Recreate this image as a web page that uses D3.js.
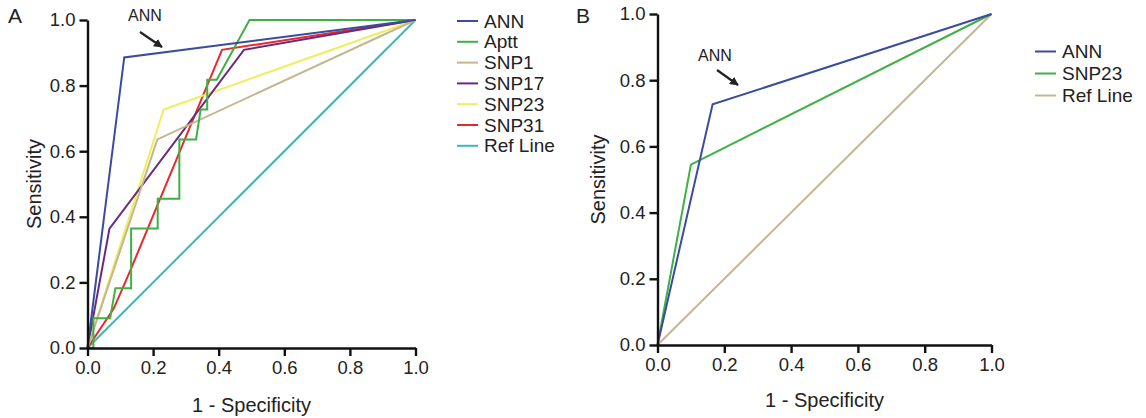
<!DOCTYPE html>
<html>
<head>
<meta charset="utf-8">
<script src="https://cdn.jsdelivr.net/npm/d3@7"></script>
<style>
body { margin: 0; background: #fff; }
text { font-family: "Liberation Sans", Arial, sans-serif; fill: #222; }
</style>
</head>
<body>
<script>
// panel A curves [1-specificity, sensitivity]
var annA = [[0, 0], [0.112, 0.886], [1, 1]];
var aptt = [[0, 0], [0.018, 0], [0.018, 0.091], [0.069, 0.091], [0.085, 0.182], [0.133, 0.182], [0.133, 0.364],
    [0.214, 0.364], [0.214, 0.455], [0.28, 0.455], [0.28, 0.636], [0.331, 0.636], [0.345, 0.727],
    [0.365, 0.727], [0.365, 0.818], [0.394, 0.818], [0.494, 1], [1, 1]];
var snp1 = [[0, 0], [0.213, 0.636], [1, 1]];
var snp17 = [[0, 0], [0.067, 0.364], [0.477, 0.909], [1, 1]];
var snp23A = [[0, 0], [0.232, 0.727], [1, 1]];
var snp31 = [[0, 0], [0.08, 0.12], [0.13, 0.235], [0.41, 0.909], [1, 1]];
var refLine = [[0, 0], [1, 1]];

// panel B curves
var annB = [[0, 0], [0.165, 0.727], [1, 1]];
var snp23B = [[0, 0], [0.1, 0.545], [1, 1]];

var ticks = [0, 0.2, 0.4, 0.6, 0.8, 1.0];

var seriesA = [
    {name: "ANN", pts: annA, color: "#3b4ba0"},
    {name: "Aptt", pts: aptt, color: "#3fb044"},
    {name: "SNP1", pts: snp1, color: "#c4b68e"},
    {name: "SNP17", pts: snp17, color: "#6b2b7c"},
    {name: "SNP23", pts: snp23A, color: "#eeee5e"},
    {name: "SNP31", pts: snp31, color: "#e8282c"},
    {name: "Ref Line", pts: refLine, color: "#3db6b6"}
];
var seriesB = [
    {name: "ANN", pts: annB, color: "#3b4ba0"},
    {name: "SNP23", pts: snp23B, color: "#3fb044"},
    {name: "Ref Line", pts: refLine, color: "#c4b68e"}
];

var svg = d3.select("body").append("svg")
    .attr("width", 1146).attr("height", 418);

svg.append("defs").append("marker")
    .attr("id", "arr")
    .attr("viewBox", "0 0 10 10")
    .attr("refX", 9).attr("refY", 5)
    .attr("markerWidth", 4).attr("markerHeight", 4)
    .attr("orient", "auto")
    .append("path").attr("d", "M0,0L10,5L0,10z").attr("fill", "#222");

function panel(opt) {
    var x = d3.scaleLinear().domain([0, 1]).range([opt.x0, opt.x1]);
    var y = d3.scaleLinear().domain([0, 1]).range([opt.y0, opt.y1]);
    var g = svg.append("g");

    var line = d3.line().x(d => x(d[0])).y(d => y(d[1]));
    g.selectAll("path.curve")
        .data(opt.series.slice().reverse())
        .join("path")
        .attr("class", "curve")
        .attr("fill", "none")
        .attr("stroke", d => d.color)
        .attr("stroke-width", 2)
        .attr("stroke-linejoin", "miter")
        .attr("d", d => line(d.pts));

    var ax = g.append("g")
        .attr("transform", "translate(0," + opt.y0 + ")")
        .call(d3.axisBottom(x).tickValues(ticks).tickFormat(d3.format(".1f")).tickSize(8).tickSizeOuter(0).tickPadding(5));
    var ay = g.append("g")
        .attr("transform", "translate(" + opt.x0 + ",0)")
        .call(d3.axisLeft(y).tickValues(ticks).tickFormat(d3.format(".1f")).tickSize(8).tickSizeOuter(0).tickPadding(4));
    [ax, ay].forEach(a => {
        a.selectAll("path, line").attr("stroke", "#111").attr("stroke-width", 2.4);
        a.selectAll("text").style("font-size", "18.5px").attr("fill", "#222");
    });

    g.append("text")
        .attr("x", (opt.x0 + opt.x1) / 2).attr("y", opt.xtY)
        .attr("text-anchor", "middle").style("font-size", "20px")
        .text("1 - Specificity");
    g.append("text")
        .attr("transform", "translate(" + opt.ytX + "," + (opt.y0 + opt.y1) / 2 + ") rotate(-90)")
        .attr("text-anchor", "middle").attr("dy", "0.35em").style("font-size", "20px")
        .text("Sensitivity");

    g.append("text")
        .attr("x", opt.letter[0]).attr("y", opt.letter[1])
        .style("font-size", "21px").text(opt.label);

    // ANN callout
    g.append("text")
        .attr("x", opt.ann[0]).attr("y", opt.ann[1])
        .attr("text-anchor", "middle").style("font-size", "16px").text("ANN");
    g.append("line")
        .attr("x1", opt.arrow[0]).attr("y1", opt.arrow[1])
        .attr("x2", opt.arrow[2]).attr("y2", opt.arrow[3])
        .attr("stroke", "#222").attr("stroke-width", 2.2)
        .attr("marker-end", "url(#arr)");

    var leg = g.append("g");
    opt.series.forEach((s, i) => {
        var ly = opt.leg[1] + i * opt.leg[2];
        leg.append("line")
            .attr("x1", opt.leg[0]).attr("x2", opt.leg[0] + 21)
            .attr("y1", ly).attr("y2", ly)
            .attr("stroke", s.color).attr("stroke-width", 2);
        leg.append("text")
            .attr("x", opt.leg[0] + 27).attr("y", ly).attr("dy", "0.35em")
            .style("font-size", "19px").text(s.name);
    });
}

panel({
    series: seriesA, x0: 87.5, x1: 415.5, y0: 348, y1: 20,
    xtY: 412, ytX: 34, label: "A", letter: [8, 23],
    ann: [145, 21], arrow: [140, 32, 162, 47],
    leg: [457, 21, 20.8]
});
panel({
    series: seriesB, x0: 657.5, x1: 991.5, y0: 345, y1: 14,
    xtY: 407, ytX: 598, label: "B", letter: [576, 23],
    ann: [715, 61], arrow: [717, 70, 738, 85],
    leg: [1035, 51.5, 22]
});
</script>
</body>
</html>
